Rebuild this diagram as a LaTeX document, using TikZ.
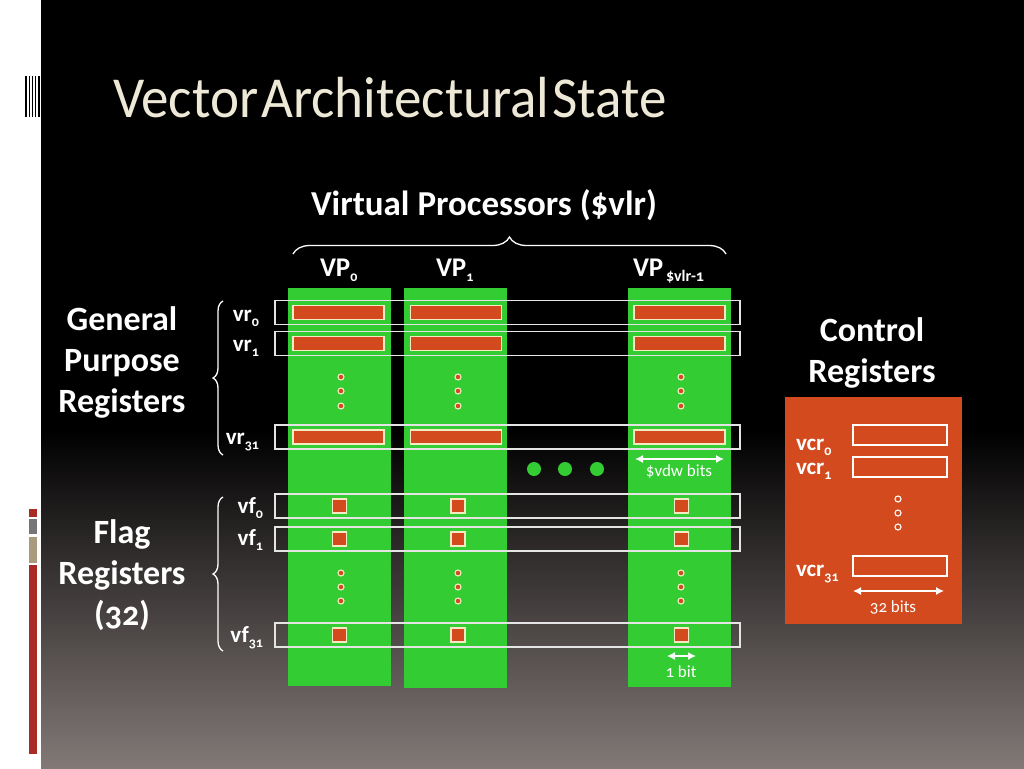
\documentclass[tikz,border=0pt]{standalone}
\usepackage{fontspec}
\setmainfont{Carlito}[Numbers=OldStyle]
\usetikzlibrary{decorations.pathreplacing,arrows.meta}

\definecolor{vgreen}{HTML}{33CC33}
\definecolor{vorange}{HTML}{D24A1D}
\definecolor{vcream}{HTML}{F3EBC3}
\definecolor{vtitle}{HTML}{EEE8D6}
\definecolor{vred}{HTML}{A82B26}
\definecolor{vgray}{HTML}{76767A}
\definecolor{vtan}{HTML}{A99C7E}
\definecolor{vbottom}{HTML}{827977}
\definecolor{vline}{HTML}{E4E4E4}

\newcommand{\low}[1]{\raisebox{-0.45ex}{\fontsize{14}{14}\selectfont #1}}

\begin{document}
\begin{tikzpicture}
  [x=1pt,y=-1pt,every node/.style={inner sep=0pt,outer sep=0pt,text=white},
   lane/.style={fill=vgreen,minimum width=103pt,anchor=north},
   regrow/.style={draw=vline,line width=1.4pt,minimum width=465pt,minimum height=24pt},
   bar/.style={fill=vorange,draw=vcream,line width=1.3pt,minimum width=91pt,minimum height=14pt},
   flag/.style={fill=vorange,draw=vcream,line width=1.3pt,minimum size=14pt},
   dot/.style={circle,fill=vorange,draw=vcream,line width=1.1pt,minimum size=6pt},
   big/.style={font=\fontsize{34}{34}\selectfont\bfseries,anchor=base},
   reg/.style={font=\fontsize{23}{23}\selectfont\bfseries},
   bits/.style={font=\fontsize{17}{17}\selectfont},
   span/.style={draw=white,line width=1.3pt,{Latex[length=8pt,width=8pt]}-{Latex[length=8pt,width=8pt]}},
   curly/.style={draw=white,line width=1.3pt,decorate,decoration={brace,amplitude=#1}}]

  \useasboundingbox (0,0) rectangle (1024,768);

  % slide background
  \fill [white] (0,0) rectangle (1024,768);
  \fill [black] (41,0) rectangle (1024,430);
  \shade [top color=black,bottom color=vbottom] (41,430) rectangle (1024,768);
  \foreach \x in {25,28.5,31.5,34.5,38}
    \fill [black] (\x,76) rectangle +(1.6,41);
  \fill [vred] (29,509) rectangle (37,517);
  \fill [vgray] (29,519) rectangle (37,534);
  \fill [vtan] (29,537) rectangle (37,563);
  \fill [vred] (29,565) rectangle (37,754);

  \node [text=vtitle,font=\fontsize{58}{58}\selectfont,anchor=base west] (title) at (113,117)
    {\scalebox{0.95}[1]{Vector\hspace{3pt}Architectural\hspace{3pt}State}};

  % virtual processors
  \node [big,font=\fontsize{35}{35}\selectfont\bfseries] (vps) at (484,215) {Virtual Processors (\$vlr)};
  \coordinate (vpsl) at (293,254);
  \coordinate (vpsr) at (726,254);
  \draw [curly=17] (vpsl) -- (vpsr);

  \node [font=\fontsize{27}{27}\selectfont\bfseries,anchor=base west] (vp0lab) at (320,276) {VP\low{0}};
  \node [font=\fontsize{27}{27}\selectfont\bfseries,anchor=base west] (vp1lab) at (436,276) {VP\low{1}};
  \node [font=\fontsize{27}{27}\selectfont\bfseries,anchor=base west] (vp2lab) at (633,276)
    {VP\raisebox{-0.45ex}{\fontsize{16}{16}\selectfont\,\$vlr-1}};

  \node [lane,minimum height=398pt] (vp0) at (339.5,288) {};
  \node [lane,minimum height=400pt] (vp1) at (455.5,288) {};
  \node [lane,minimum height=399pt] (vp2) at (679,288) {};

  \foreach \r/\y in {vr0/312.5,vr1/343.5,vr31/437,vf0/506,vf1/539,vf31/635}
    \node [regrow] (\r) at (507.5,\y) {};

  \foreach \n/\x in {0/338.5,1/456,2/679.5}
    \foreach \r/\y in {0/312.5,1/343.5,31/437}
      \node [bar] (bar\n-\r) at (\x,\y) {};

  \foreach \n/\x in {0/339.5,1/458,2/681.5}
    \foreach \r/\y in {0/506,1/539,31/635}
      \node [flag] (flag\n-\r) at (\x,\y) {};

  \foreach \n/\x in {0/341,1/458,2/681}
    \foreach \d/\y in {1/377,2/391,3/406,4/573,5/587,6/601}
      \node [dot] (dot\n-\d) at (\x,\y) {};

  \foreach \i/\x in {1/534,2/565,3/597}
    \node [circle,fill=vgreen,minimum size=14pt] (more\i) at (\x,469) {};

  \coordinate (vdwl) at (635,459);
  \coordinate (vdwr) at (724,459);
  \draw [span] (vdwl) -- (vdwr);
  \node [bits,anchor=base] (vdw) at (679,476) {\$vdw bits};

  \coordinate (bitl) at (667,656);
  \coordinate (bitr) at (696,656);
  \draw [span] (bitl) -- (bitr);
  \node [bits,anchor=base] (onebit) at (681,677) {1 bit};

  % register names
  \node [reg,anchor=base east] (vr0lab) at (259,321) {vr\low{0}};
  \node [reg,anchor=base east] (vr1lab) at (259,351) {vr\low{1}};
  \node [reg,anchor=base east] (vr31lab) at (259,444) {vr\low{31}};
  \node [reg,anchor=base east] (vf0lab) at (263,513) {vf\low{0}};
  \node [reg,anchor=base east] (vf1lab) at (263,545) {vf\low{1}};
  \node [reg,anchor=base east] (vf31lab) at (263,642) {vf\low{31}};

  \coordinate (gprb) at (223,455);
  \coordinate (gprt) at (223,301);
  \draw [curly=10] (gprb) -- (gprt);
  \coordinate (flgb) at (223,651);
  \coordinate (flgt) at (223,497);
  \draw [curly=10] (flgb) -- (flgt);

  \node [big] (gpr1) at (122,330) {General};
  \node [big] (gpr2) at (122,371) {Purpose};
  \node [big] (gpr3) at (122,412) {Registers};
  \node [big] (flg1) at (122,543) {Flag};
  \node [big] (flg2) at (122,584) {Registers};
  \node [big] (flg3) at (122,625) {(32)};

  % control registers
  \node [big] (ctl1) at (872,341) {Control};
  \node [big] (ctl2) at (872,382) {Registers};
  \node [fill=vorange,minimum width=177pt,minimum height=227pt,anchor=north west] (ctrl) at (785,397) {};
  \foreach \r/\y in {0/435,1/467,31/566}
    \node [draw=white,line width=1.3pt,minimum width=94pt,minimum height=20pt] (vcr\r) at (900,\y) {};
  \node [reg,anchor=base west] (vcr0lab) at (796,450) {vcr\low{0}};
  \node [reg,anchor=base west] (vcr1lab) at (796,474) {vcr\low{1}};
  \node [reg,anchor=base west] (vcr31lab) at (796,576) {vcr\low{31}};
  \foreach \d/\y in {1/499,2/513,3/527}
    \node [circle,draw=white,line width=1.1pt,minimum size=6pt] (cdot\d) at (898,\y) {};
  \coordinate (cbl) at (853,591);
  \coordinate (cbr) at (944,591);
  \draw [span] (cbl) -- (cbr);
  \node [bits,anchor=base] (cbits) at (893,612) {32 bits};

\end{tikzpicture}
\end{document}
